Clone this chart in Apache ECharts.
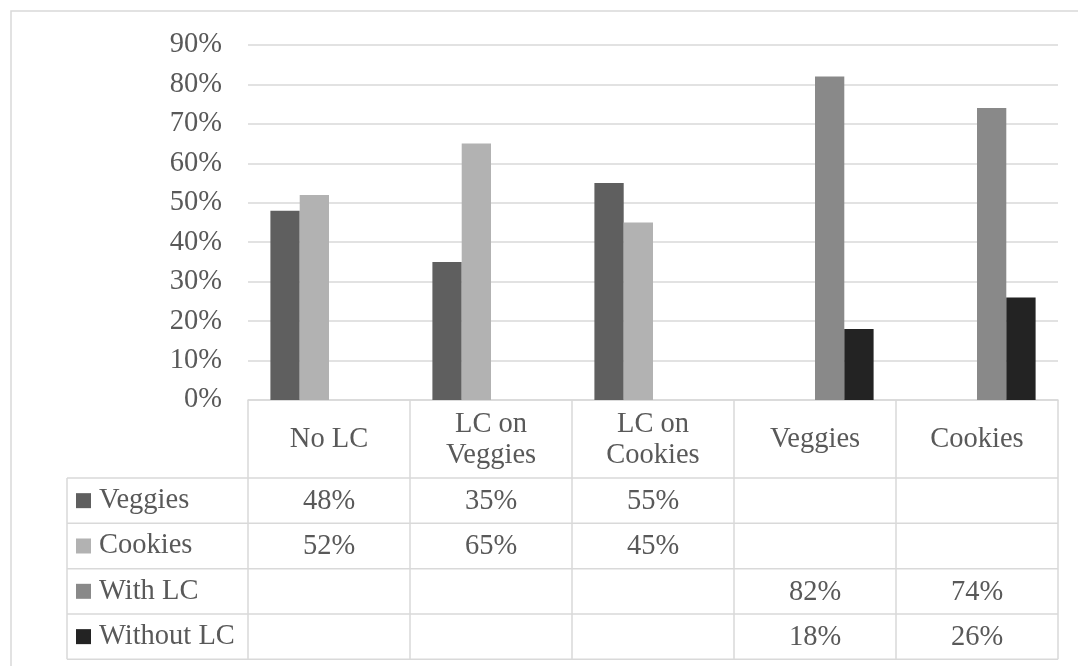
<!DOCTYPE html>
<html>
<head>
<meta charset="utf-8">
<title>Veggies vs Cookies</title>
<script src="https://cdn.jsdelivr.net/npm/echarts@6/dist/echarts.min.js"></script>
<style>
  html, body { margin: 0; padding: 0; background: #ffffff; }
  #chart { width: 1078px; height: 666px; }
</style>
</head>
<body>
<div id="chart"></div>
<script>
// Categories and series values (shares of choices)
const categories = ['No LC', 'LC on\nVeggies', 'LC on\nCookies', 'Veggies', 'Cookies'];
const seriesNames = ['Veggies', 'Cookies', 'With LC', 'Without LC'];
const veggies   = [0.48, 0.35, 0.55, null, null];
const cookies   = [0.52, 0.65, 0.45, null, null];
const withLC    = [null, null, null, 0.82, 0.74];
const withoutLC = [null, null, null, 0.18, 0.26];
const seriesColors = ['#5f5f5f', '#b2b2b2', '#898989', '#232323'];

const allSeries = [veggies, cookies, withLC, withoutLC];

// Layout
const W = 1078, H = 666;
const plotLeft = 248, plotRight = 1058, plotTop = 45, plotBottom = 400;
const tableLeft = 67;
const rowLines = [478, 523.3, 568.7, 614, 659.3];   // horizontal table rules below the header
const textShift = 1;                                // nudges table text down within its cells
const textColor = '#595959';
const ruleColor = '#d9d9d9';
const fontFamily = '"Liberation Serif", "Times New Roman", serif';
const fontSize = 28.5;

const pct = v => (v === null || v === undefined) ? '' : Math.round(v * 100) + '%';

const chart = echarts.init(document.getElementById('chart'), null, { renderer: 'canvas', width: W, height: H });

// x axes: the category header row, then one value row per series
const xAxes = [{
  type: 'category',
  data: categories,
  gridIndex: 0,
  position: 'bottom',
  axisLine: { show: true, lineStyle: { color: ruleColor, width: 1.5 } },
  axisTick: { show: true, length: rowLines[rowLines.length - 1] - plotBottom, lineStyle: { color: ruleColor, width: 1.5 } },
  axisLabel: {
    interval: 0, margin: (plotBottom + rowLines[0]) / 2 - plotBottom + textShift, verticalAlign: 'middle',
    color: textColor, fontFamily, fontSize, lineHeight: 31
  }
}];
allSeries.forEach((vals, i) => {
  const center = (rowLines[i] + rowLines[i + 1]) / 2;
  xAxes.push({
    type: 'category',
    data: categories,
    gridIndex: 0,
    position: 'bottom',
    offset: center - plotBottom + textShift,
    axisLine: { show: false },
    axisTick: { show: false },
    axisLabel: {
      interval: 0, margin: 0, verticalAlign: 'middle',
      color: textColor, fontFamily, fontSize,
      formatter: (value, idx) => pct(vals[idx])
    }
  });
});

// Table rules that sit outside the plot's axes
const graphics = [
  { type: 'rect', shape: { x: 11, y: 11, width: W + 20, height: H + 20 }, style: { fill: 'none', stroke: ruleColor, lineWidth: 1.5 }, silent: true },
  { type: 'line', shape: { x1: tableLeft, y1: rowLines[0], x2: tableLeft, y2: rowLines[rowLines.length - 1] }, style: { stroke: ruleColor, lineWidth: 1.5 }, silent: true }
];
rowLines.forEach(y => {
  graphics.push({ type: 'line', shape: { x1: tableLeft, y1: y, x2: plotRight, y2: y }, style: { stroke: ruleColor, lineWidth: 1.5 }, silent: true });
});

chart.setOption({
  backgroundColor: '#ffffff',
  animation: false,
  textStyle: { fontFamily },
  grid: { left: plotLeft, right: W - plotRight, top: plotTop, bottom: H - plotBottom, containLabel: false },
  legend: {
    data: seriesNames,
    orient: 'vertical',
    left: tableLeft + 9,
    top: rowLines[0],
    padding: 0,
    itemGap: 0,
    itemWidth: 15,
    itemHeight: 15,
    icon: 'rect',
    selectedMode: false,
    textStyle: { color: textColor, fontFamily, fontSize, lineHeight: (rowLines[4] - rowLines[0]) / 4, padding: [0, 0, 0, 3] }
  },
  xAxis: xAxes,
  yAxis: {
    type: 'value',
    min: 0, max: 0.9, interval: 0.1,
    axisLine: { show: false },
    axisTick: { show: false },
    axisLabel: { color: textColor, fontFamily, fontSize, margin: 26, padding: [2, 0, 0, 0], formatter: v => pct(v) },
    splitLine: { lineStyle: { color: ruleColor, width: 1.5 } }
  },
  series: allSeries.map((vals, i) => ({
    name: seriesNames[i],
    type: 'bar',
    xAxisIndex: 0,
    data: vals,
    barWidth: 29.3,
    barGap: '0%',
    itemStyle: { color: seriesColors[i] }
  })),
  graphic: graphics
});
</script>
</body>
</html>
